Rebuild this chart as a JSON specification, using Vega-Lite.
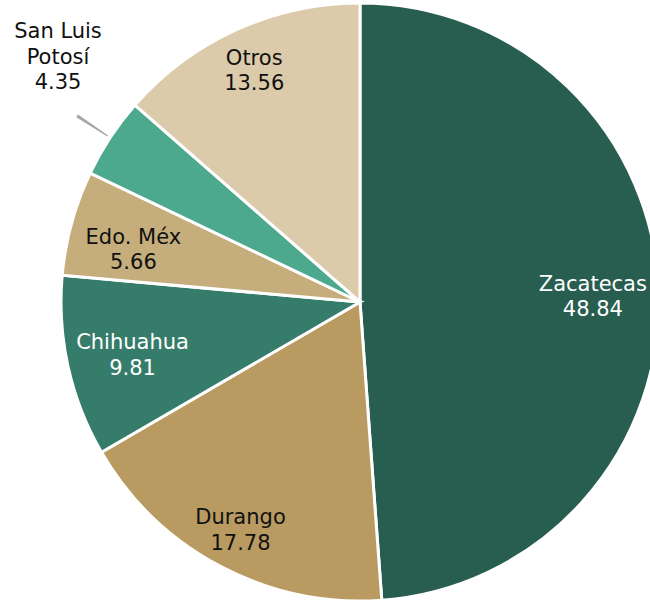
{
  "$schema": "https://vega.github.io/schema/vega-lite/v6.json",
  "width": 720,
  "height": 604,
  "autosize": {"type": "none"},
  "padding": {"left": 0, "top": 0, "right": -70, "bottom": -4},
  "background": "white",
  "view": {"stroke": null},
  "data": {
    "values": [
      {"estado": "Zacatecas", "etiqueta": "Zacatecas", "share": 48.84},
      {"estado": "Durango", "etiqueta": "Durango", "share": 17.78},
      {"estado": "Chihuahua", "etiqueta": "Chihuahua", "share": 9.81},
      {"estado": "Edo. Méx", "etiqueta": "Edo. Méx", "share": 5.66},
      {"estado": "San Luis Potosí", "etiqueta": "San Luis\nPotosí", "share": 4.35},
      {"estado": "Otros", "etiqueta": "Otros", "share": 13.56}
    ]
  },
  "transform": [
    {"window": [{"op": "row_number", "as": "orden"}]},
    {"calculate": "datum.etiqueta + '\\n' + format(datum.share, '.2f')", "as": "texto"}
  ],
  "encoding": {
    "theta": {"field": "share", "type": "quantitative", "stack": true},
    "order": {"field": "orden", "type": "quantitative", "sort": "ascending"}
  },
  "layer": [
    {
      "mark": {"type": "arc", "outerRadius": 299, "stroke": "white", "strokeWidth": 3},
      "encoding": {
        "color": {
          "field": "estado",
          "type": "nominal",
          "legend": null,
          "scale": {
            "domain": ["Zacatecas", "Durango", "Chihuahua", "Edo. Méx", "San Luis Potosí", "Otros"],
            "range": ["#285E4F", "#B99B62", "#367C6A", "#C5AD7C", "#4CA98D", "#DCCBAA"]
          }
        }
      }
    },
    {
      "mark": {"type": "arc", "radius": 338, "radius2": 302, "padAngle": 0.19912, "fill": "#A6A6A6", "stroke": "#A6A6A6", "strokeWidth": 1.2},
      "encoding": {
        "opacity": {"condition": {"test": "datum.estado === 'San Luis Potosí'", "value": 1}, "value": 0}
      }
    },
    {
      "mark": {"type": "text", "radius": 233, "dy": -9, "font": "DejaVu Sans", "fontSize": 21, "lineHeight": 25.5, "lineBreak": "\n", "align": "center", "baseline": "middle"},
      "encoding": {
        "text": {"condition": {"test": "datum.estado !== 'Zacatecas' && datum.estado !== 'Chihuahua'", "value": ""}, "field": "texto"},
        "color": {"value": "white"}
      }
    },
    {
      "mark": {"type": "text", "radius": 235, "dy": -2, "font": "DejaVu Sans", "fontSize": 21, "lineHeight": 25.5, "lineBreak": "\n", "align": "center", "baseline": "middle", "color": "#111111"},
      "encoding": {
        "text": {"condition": {"test": "datum.estado !== 'Edo. Méx'", "value": ""}, "field": "texto"}
      }
    },
    {
      "mark": {"type": "text", "radius": 256, "dy": -10, "font": "DejaVu Sans", "fontSize": 21, "lineHeight": 25.5, "lineBreak": "\n", "align": "center", "baseline": "middle", "color": "#111111"},
      "encoding": {
        "text": {"condition": {"test": "datum.estado !== 'Otros' && datum.estado !== 'Durango'", "value": ""}, "field": "texto"}
      }
    },
    {
      "mark": {"type": "text", "radius": 340, "dx": -18, "dy": -83, "font": "DejaVu Sans", "fontSize": 21, "lineHeight": 25.5, "lineBreak": "\n", "align": "center", "baseline": "middle", "color": "#111111"},
      "encoding": {
        "text": {"condition": {"test": "datum.estado !== 'San Luis Potosí'", "value": ""}, "field": "texto"}
      }
    }
  ]
}
